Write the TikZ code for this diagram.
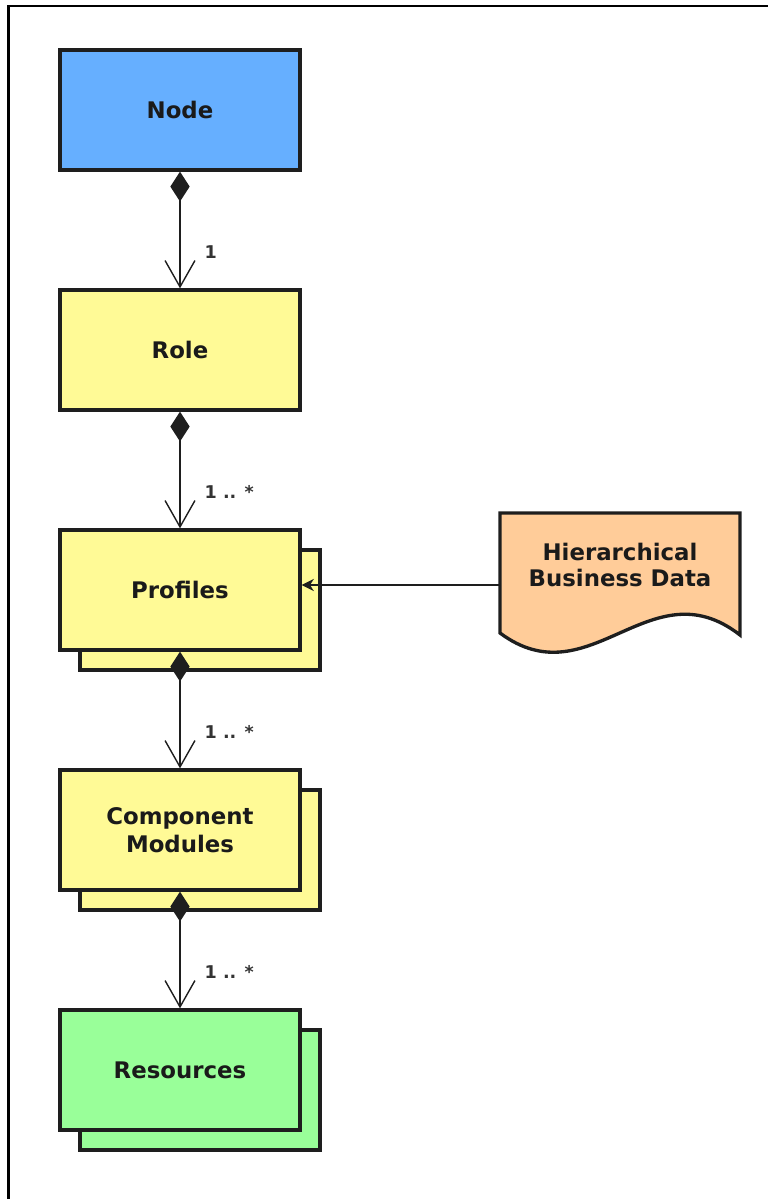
\documentclass[tikz,border=0pt]{standalone}
\usepackage{fontspec}
\setmainfont{DejaVu Sans}
\usetikzlibrary{positioning,arrows.meta}

\definecolor{nodeblue}{HTML}{66AFFF}
\definecolor{roleyellow}{HTML}{FFFA96}
\definecolor{resgreen}{HTML}{99FF99}
\definecolor{dataorange}{HTML}{FFCC99}
\definecolor{boxline}{HTML}{1E1E1E}
\definecolor{textdark}{HTML}{1A1A1A}
\definecolor{labelgray}{HTML}{333333}

\tikzset{
  umlbox/.style={draw=boxline, line width=1.9pt, minimum width=4.8cm, minimum height=2.4cm,
    align=center, font=\bfseries\fontsize{13}{16}\selectfont, text=textdark},
  haslink/.style={draw=boxline, line width=0.8pt,
    {Diamond[length=17pt,width=11pt]}-{Straight Barb[length=15pt,width=17pt,line width=0.8pt]}},
  feedlink/.style={draw=boxline, line width=0.8pt, -{Stealth[length=7pt,width=7pt]}},
  multlabel/.style={font=\bfseries\fontsize{10}{12}\selectfont, text=labelgray, inner sep=0pt}
}

\begin{document}
\begin{tikzpicture}[x=0.02cm,y=-0.02cm]
\useasboundingbox (0,0) rectangle (768,1199);

% frame
\draw[line width=1.7pt] (8.5,1199) -- (8.5,6) -- (768,6);

% back sheets of the stacks
\node[umlbox, fill=roleyellow] (prof2) at (200,610) {};
\node[umlbox, fill=roleyellow] (comp2) at (200,850) {};
\node[umlbox, fill=resgreen] (res2) at (200,1090) {};

\node[umlbox, fill=nodeblue] (node) at (180,110) {Node};
\node[umlbox, fill=roleyellow] (role) at (180,350) {Role};
\node[umlbox, fill=roleyellow] (prof) at (180,590) {Profiles};
\node[umlbox, fill=roleyellow] (comp) at (180,830) {Component\\Modules};
\node[umlbox, fill=resgreen] (res) at (180,1070) {Resources};

% data document
\draw[boxline, line width=1.9pt, fill=dataorange]
  (500,513) -- (740,513) -- (740,635)
  .. controls (650,565) and (590,700) .. (500,633) -- cycle;
\node[align=center, text=textdark, font=\bfseries\fontsize{13}{15}\selectfont] (hbd) at (620,565) {Hierarchical\\Business Data};
\coordinate (hbdin) at (500,585);

\draw[haslink] (node.south) -- (role.north) node[multlabel, pos=0.69, right=0.48cm] {1};
\foreach \a/\b in {role/prof, prof/comp, comp/res} {
  \draw[haslink] (\a.south) -- (\b.north) node[multlabel, pos=0.69, right=0.48cm] {1 .. *};
}

\draw[feedlink] (hbdin) -- (hbdin -| prof.east);
\end{tikzpicture}
\end{document}
